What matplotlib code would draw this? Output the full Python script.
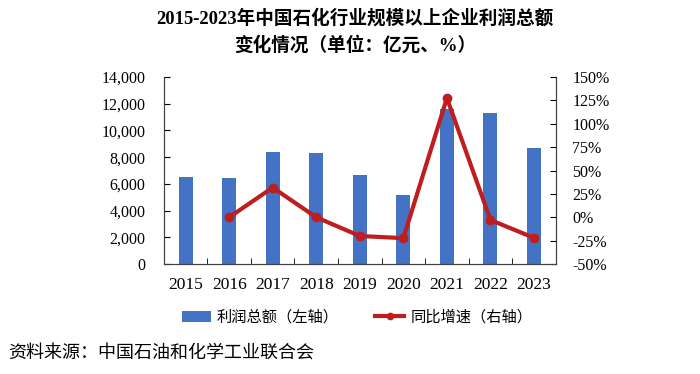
import numpy as np
import matplotlib.pyplot as plt

years = ['2015', '2016', '2017', '2018', '2019', '2020', '2021', '2022', '2023']
profit = [6500, 6425, 8425, 8350, 6700, 5175, 11625, 11300, 8675]
growth_years = ['2016', '2017', '2018', '2019', '2020', '2021', '2022', '2023']
growth = [0.0, 31.8, 0.0, -20.0, -22.3, 127.5, -2.9, -22.0]

serif = ['Liberation Serif', 'Noto Sans CJK SC']
cjk = ['Noto Sans CJK SC', 'DejaVu Sans']
plt.rcParams['font.family'] = serif

fig = plt.figure(figsize=(7, 3.74), dpi=100)
ax = fig.add_axes([0.234, 0.294, 0.56, 0.50])
x = np.arange(len(years))
ax.bar(x, profit, width=0.32, color='#4472C4', zorder=2, label='利润总额（左轴）')
ax.set_xlim(-0.5, len(years) - 0.5)
ax.set_ylim(0, 14000)
ax.set_yticks(np.arange(0, 14001, 2000))
ax.set_yticklabels([f'{v:,}' for v in range(0, 14001, 2000)], fontsize=11.5)
ax.set_xticks(x)
ax.set_xticklabels(years, fontsize=12.5)
ax.set_xticks(np.arange(-0.5, len(years), 1.0), minor=True)
ax.tick_params(axis='x', which='major', length=0, pad=9)
ax.tick_params(axis='x', which='minor', direction='in', length=4)
ax.tick_params(axis='y', direction='in', length=4, pad=13)
ax.spines['top'].set_visible(False)

ax2 = ax.twinx()
gx = [years.index(y) for y in growth_years]
ax2.plot(gx, growth, color='#BE1E1E', lw=3.0, marker='o', markersize=6,
         zorder=3, label='同比增速（右轴）')
ax2.set_ylim(-50, 150)
ax2.set_yticks(np.arange(-50, 151, 25))
ax2.set_yticklabels([f'{v}%' for v in range(-50, 151, 25)], fontsize=11.5)
ax2.tick_params(axis='y', direction='in', length=4, pad=12)
ax2.spines['top'].set_visible(False)
for a in (ax, ax2):
    for s in a.spines.values():
        s.set_color('#404040')

h1, l1 = ax.get_legend_handles_labels()
h2, l2 = ax2.get_legend_handles_labels()
fig.legend(h1 + h2, l1 + l2, loc='center', bbox_to_anchor=(0.51, 0.152), ncol=2,
           frameon=False, prop={'family': cjk, 'size': 11}, handlelength=1.9,
           columnspacing=2.4, handletextpad=0.4, markerscale=0.75)

fig.text(0.507, 0.952, '2015-2023年中国石化行业规模以上企业利润总额', ha='center', va='center',
         fontsize=13.4, fontweight='bold', family=serif)
fig.text(0.507, 0.88, '变化情况（单位：亿元、%）', ha='center', va='center',
         fontsize=13.4, fontweight='bold', family=serif)
fig.text(0.011, 0.058, '资料来源：中国石油和化学工业联合会', ha='left', va='center',
         fontsize=13, family=cjk)

fig.savefig('out.png', dpi=100)
